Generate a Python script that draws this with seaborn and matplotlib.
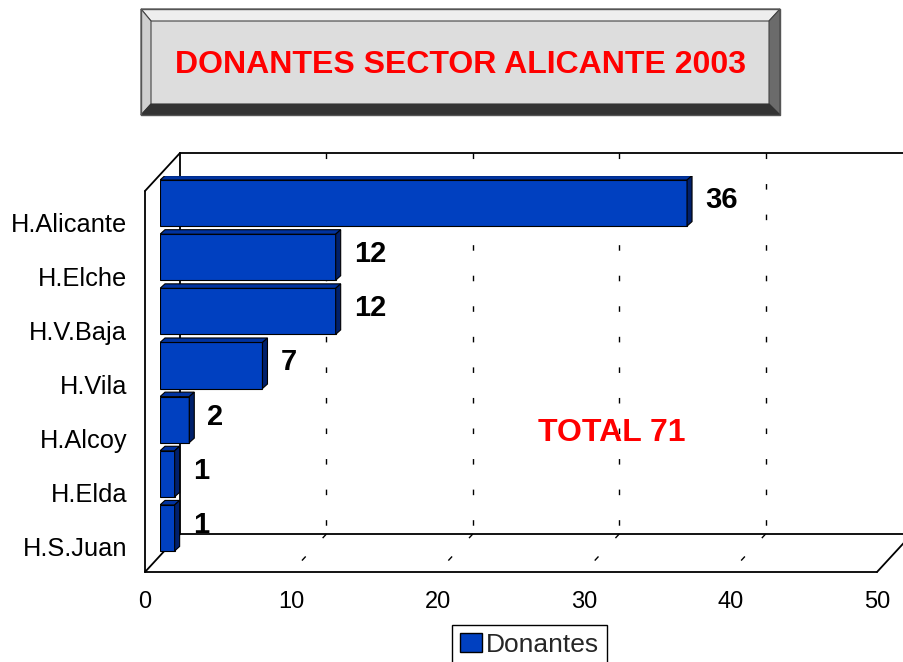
import numpy as np
import pandas as pd
import matplotlib
matplotlib.use("Agg")
import matplotlib.pyplot as plt
import seaborn as sns
from matplotlib.patches import Polygon, Patch
from matplotlib.transforms import ScaledTranslation

hospitales = ["H.Alicante", "H.Elche", "H.V.Baja", "H.Vila", "H.Alcoy", "H.Elda", "H.S.Juan"]
donantes = [36, 12, 12, 7, 2, 1, 1]
x_ticks = [0, 10, 20, 30, 40, 50]
serie = "Donantes"
titulo = "DONANTES SECTOR ALICANTE 2003"
total_txt = "TOTAL 71"

df = pd.DataFrame({"hospital": hospitales, "donantes": donantes})

sns.set_theme(style="white")
plt.rcParams["font.family"] = ["Liberation Sans", "DejaVu Sans"]

azul = "#0040C0"
azul_top = "#0033A0"
azul_lado = "#00206B"

W, H = 904, 662
fig = plt.figure(figsize=(W / 100, H / 100), dpi=100)
fig.patch.set_facecolor("white")

def fx(px):
    return px / W

def fy(py):
    return 1 - py / H

# background layer in pixel units: 3d box + title frame
bg = fig.add_axes([0, 0, 1, 1], zorder=0)
bg.set_xlim(0, W)
bg.set_ylim(H, 0)
bg.axis("off")

s = 14.64  # px per unit
fx0, ftop, fbot = 145, 191, 572
bx0, btop, bbot = 180, 153, 534
dep_x, dep_y = bx0 - fx0, bbot - fbot
xmax = x_ticks[-1]

lk = dict(color="black", lw=1.3)
bg.plot([bx0, W + 20], [btop, btop], **lk)
bg.plot([bx0, bx0], [btop, bbot], **lk)
bg.plot([fx0, bx0], [ftop, btop], **lk)
bg.plot([fx0, fx0], [ftop, fbot], **lk)
bg.plot([fx0, fx0 + xmax * s], [fbot, fbot], **lk)
bg.plot([fx0 + xmax * s, fx0 + xmax * s + dep_x], [fbot, fbot + dep_y], **lk)
bg.plot([bx0, W + 20], [bbot, bbot], **lk)
bg.plot([fx0, bx0], [fbot, bbot], **lk)

gk = dict(color="black", lw=1, linestyle=(0, (4, 18)))
for v in x_ticks[1:-1]:
    bg.plot([bx0 + v * s, bx0 + v * s], [btop, bbot], **gk)
    bg.plot([bx0 + v * s, fx0 + v * s], [bbot, fbot], **gk)

# title box with bevel
L, R, T, B = 141, 780, 9, 115
l, r, t, b = 151, 769, 21, 104
bg.add_patch(Polygon([(l, t), (r, t), (r, b), (l, b)], closed=True, facecolor="#DDDDDD", edgecolor="none"))
bg.add_patch(Polygon([(L, T), (R, T), (r, t), (l, t)], closed=True, facecolor="#EEEEEE", edgecolor="#444444", lw=0.8))
bg.add_patch(Polygon([(L, T), (l, t), (l, b), (L, B)], closed=True, facecolor="#CFCFCF", edgecolor="#444444", lw=0.8))
bg.add_patch(Polygon([(R, T), (R, B), (r, b), (r, t)], closed=True, facecolor="#6B6B6B", edgecolor="#444444", lw=0.8))
bg.add_patch(Polygon([(L, B), (R, B), (r, b), (l, b)], closed=True, facecolor="#333333", edgecolor="#333333", lw=0.8))
bg.plot([L, R, R, L, L], [T, T, B, B, T], color="#555555", lw=1)
bg.text((L + R) / 2, 73, titulo, color="#FF0000", fontsize=23, fontweight="bold",
        ha="center", va="baseline")

bg.text(538, 441, total_txt, color="#FF0000", fontsize=23, fontweight="bold",
        ha="left", va="baseline")

# front plane axes: x ticks
axf = fig.add_axes([fx(fx0), fy(fbot), xmax * s / W, (fbot - ftop) / H], zorder=1)
axf.patch.set_alpha(0)
axf.set_xlim(0, xmax)
axf.set_xticks(x_ticks)
axf.set_yticks([])
axf.tick_params(axis="x", length=0, pad=14, labelsize=17, labelcolor="black")
for sp in axf.spines.values():
    sp.set_visible(False)

# bars
ax = fig.add_axes([fx(160), fy(555), xmax * s / W, 379 / H], zorder=2)
ax.patch.set_alpha(0)
sns.barplot(data=df, y="hospital", x="donantes", orient="h", color=azul, saturation=1,
            width=0.85, edgecolor="black", linewidth=0.8, ax=ax)
ax.set_xlim(0, xmax)
ax.set_ylim(len(hospitales) - 0.5, -0.5)
ax.set_xlabel("")
ax.set_ylabel("")
ax.set_xticks([])
for sp in ax.spines.values():
    sp.set_visible(False)

ddx = 5 / s
ddy = -4.5 / (379 / len(hospitales))
for p in ax.patches:
    x1 = p.get_width()
    y0 = p.get_y()
    y1 = y0 + p.get_height()
    ax.add_patch(Polygon([(0, y0), (x1, y0), (x1 + ddx, y0 + ddy), (ddx, y0 + ddy)],
                         closed=True, facecolor=azul_top, edgecolor="black", lw=0.8))
    ax.add_patch(Polygon([(x1, y0), (x1, y1), (x1 + ddx, y1 + ddy), (x1 + ddx, y0 + ddy)],
                         closed=True, facecolor=azul_lado, edgecolor="black", lw=0.8))

for i, v in enumerate(donantes):
    ax.annotate(str(v), xy=(v, i), xytext=(13, -3.6), textcoords="offset points",
                ha="left", va="baseline", fontsize=21, fontweight="bold", color="black")

ax.tick_params(axis="y", length=0, pad=23.5, labelsize=18.3, labelcolor="black")
off = ScaledTranslation(0, -19 / 100, fig.dpi_scale_trans)
for lab in ax.get_yticklabels():
    lab.set_transform(lab.get_transform() + off)

fig.legend(handles=[Patch(facecolor=azul, edgecolor="black")], labels=[serie],
           loc="upper left", bbox_to_anchor=(fx(452), fy(625)), frameon=True,
           fancybox=False, edgecolor="black", framealpha=1, fontsize=19,
           borderpad=0.3, borderaxespad=0, handlelength=0.85, handleheight=0.75,
           handletextpad=0.15)

fig.savefig("out.png", dpi=100)
